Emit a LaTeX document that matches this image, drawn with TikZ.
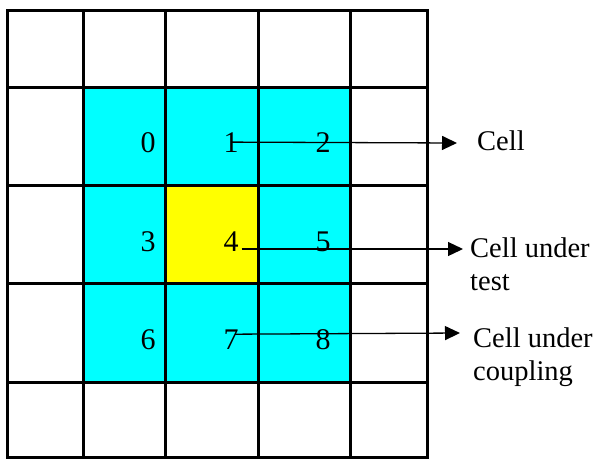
\documentclass[tikz,border=0pt]{standalone}
\usepackage{fontspec}
\setmainfont{Liberation Serif}
\usetikzlibrary{arrows.meta,positioning}
\definecolor{cellcyan}{RGB}{0,255,255}
\definecolor{celltest}{RGB}{255,255,0}

\begin{document}
\begin{tikzpicture}[
  x=1pt, y=-1pt,
  gridline/.style={line width=3pt, line cap=rect},
  num/.style={inner sep=0pt, font=\fontsize{30}{33}\selectfont, anchor=base},
  lbl/.style={inner sep=0pt, font=\fontsize{28.5}{33}\selectfont, align=left, anchor=base west},
  conn/.style={line width=1.3pt, -{Triangle[length=15pt,width=14pt]}}
]
  \useasboundingbox (0,0) rectangle (596,459);
  % coloured cells: neighbours and the cell under test
  \fill[cellcyan] (83,87) rectangle (350,382);
  \fill[celltest] (165,185) rectangle (258,283);
  \foreach \x in {7.5,83,165,258,350,427}
    \draw[gridline] (\x,10.5) -- (\x,457.5);
  \foreach \y in {10.5,87,185,283,382,457.5}
    \draw[gridline] (7.5,\y) -- (427,\y);

  \node[num] (n0) at (148,152) {0};
  \node[num] (n1) at (231,152) {1};
  \node[num] (n2) at (323,152) {2};
  \node[num] (n3) at (148,251) {3};
  \node[num] (n4) at (231,251) {4};
  \node[num] (n5) at (323,251) {5};
  \node[num] (n6) at (148,349) {6};
  \node[num] (n7) at (231,349) {7};
  \node[num] (n8) at (323,349) {8};

  % the last line of a two-line label sits on the given baseline
  \coordinate (t1) at (457,143);
  \coordinate (t4) at (463,249);
  \coordinate (t7) at (460,333);
  \node[lbl] (lcell) at (477,150) {Cell};
  \node[lbl] (ltest) at (470,290) {Cell under\\test};
  \node[lbl] (lcoup) at (473,380) {Cell under\\coupling};

  \draw[conn] ([xshift=1pt]n1.center) -- (t1);
  \draw[conn] ([xshift=3pt,yshift=2pt]n4.base east) -- (t4);
  \draw[conn] ([xshift=4pt,yshift=5pt]n7.center) -- (t7);
\end{tikzpicture}
\end{document}
